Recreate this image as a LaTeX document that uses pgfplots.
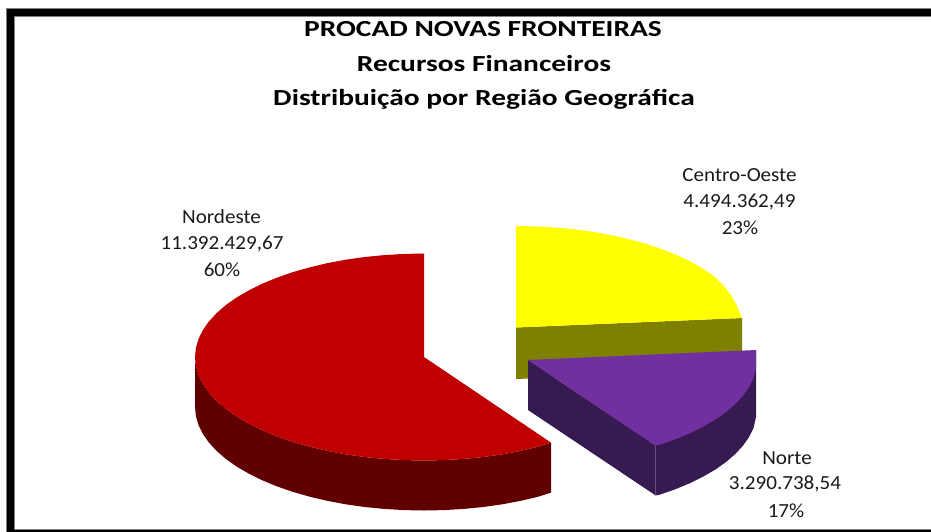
\documentclass[border=0pt]{standalone}
\usepackage{pgfplots}
\pgfplotsset{compat=1.18}
\usepackage{fontspec}
\setmainfont{Carlito}
\newfontfamily\titlefont[FakeStretch=1.28]{Carlito}
\newfontfamily\labelfont[FakeStretch=1.055]{Carlito}
\definecolor{ink}{HTML}{1A1A1A}
\definecolor{cyel}{RGB}{255,255,0}
\definecolor{cyelside}{RGB}{128,128,0}
\definecolor{cred}{RGB}{192,0,0}
\definecolor{credside}{RGB}{96,0,0}
\definecolor{cpur}{RGB}{112,48,160}
\definecolor{cpurside}{RGB}{56,26,82}
\begin{document}
\begin{tikzpicture}
\useasboundingbox (0,0) rectangle (931pt,531pt);
\begin{axis}[
  at={(0,0)},anchor=south west,scale only axis,width=931pt,height=531pt,
  xmin=0,xmax=931,ymin=0,ymax=531,y dir=reverse,hide axis,clip=true,
  every axis plot/.append style={draw=none,line join=round},
]
% frame
\addplot[fill=black,draw=gray,line width=0.6pt] coordinates {(6.5,8)(932,8)(932,16)(14.5,16)(14.5,529)(932,529)(932,533)(6.5,533)} -- cycle;
% Centro-Oeste side and top
\addplot[fill=cyelside] coordinates {(516,327.5)(742,318)(742,370)(516,379)} -- cycle;
\addplot[fill=cyel] coordinates {(516,226)(535.9,226.4)(555.8,227.6)(575.3,229.4)(594.3,232)(612.9,235.5)(630.5,239.6)(647.4,244.2)(663.2,249.6)(677.9,255.6)(691.4,262.1)(703.6,269)(714.3,276.4)(723.5,285.5)(731,295)(737,306)(742,318)(516,327.5)} -- cycle;
% Nordeste side and top
\addplot[fill=credside] coordinates {(195,357)(195.9,366)(198.5,375)(202.8,383.8)(208.8,392.4)(216.5,400.8)(225.7,408.8)(236.4,416.4)(248.6,423.5)(262.1,430.2)(276.8,436.3)(292.6,441.8)(309.5,446.6)(327.1,450.8)(345.7,454.3)(364.7,457)(384.2,458.9)(404.1,460.1)(424,460.5)(443.9,460.1)(463.8,458.9)(483.3,457)(502.3,454.3)(520.9,450.8)(538.5,446.6)(551,442.6)(551,492.6)(538.5,496.6)(520.9,500.8)(502.3,504.3)(483.3,507)(463.8,508.9)(443.9,510.1)(424,510.5)(404.1,510.1)(384.2,508.9)(364.7,507)(345.7,504.3)(327.1,500.8)(309.5,496.6)(292.6,491.8)(276.8,486.3)(262.1,480.2)(248.6,473.5)(236.4,466.4)(225.7,458.8)(216.5,450.8)(208.8,442.4)(202.8,433.8)(198.5,425)(195.9,416)(195,407)} -- cycle;
\addplot[fill=cred] coordinates {(424,253.5)(404.1,253.9)(384.2,255.1)(364.7,257)(345.7,259.7)(327.1,263.2)(309.5,267.4)(292.6,272.2)(276.8,277.7)(262.1,283.8)(248.6,290.5)(236.4,297.6)(225.7,305.2)(216.5,313.2)(208.8,321.6)(202.8,330.2)(198.5,339)(195.9,348)(195,357)(195.9,366)(198.5,375)(202.8,383.8)(208.8,392.4)(216.5,400.8)(225.7,408.8)(236.4,416.4)(248.6,423.5)(262.1,430.2)(276.8,436.3)(292.6,441.8)(309.5,446.6)(327.1,450.8)(345.7,454.3)(364.7,457)(384.2,458.9)(404.1,460.1)(424,460.5)(443.9,460.1)(463.8,458.9)(483.3,457)(502.3,454.3)(520.9,450.8)(538.5,446.6)(551,442.6)(424,357)} -- cycle;
% Norte sides and top
\addplot[fill=cpurside] coordinates {(528,360)(655,445)(655,495)(528,410)} -- cycle;
\addplot[fill=cpurside] coordinates {(756,350)(756,417)(753.5,428)(749.2,436.8)(743.2,445.4)(735.5,453.8)(726.3,461.8)(715.6,469.4)(703.4,476.5)(689.9,483.2)(675.2,489.3)(659.4,494.8)(655,495.5)(655,445)} -- cycle;
\addplot[fill=cpur] coordinates {(528,360)(756,350)(756,367)(753.5,378)(749.2,386.8)(743.2,395.4)(735.5,403.8)(726.3,411.8)(715.6,419.4)(703.4,426.5)(689.9,433.2)(675.2,439.3)(659.4,444.8)(655,445.5)} -- cycle;
\addplot[draw={rgb,255:red,100;green,80;blue,125},line width=0.8pt] coordinates {(655,445.5)(655,495)};
% titles
\node[font=\titlefont\bfseries\fontsize{23}{23}\selectfont,text=black] at (axis cs:483,29) {PROCAD NOVAS FRONTEIRAS};
\node[font=\titlefont\bfseries\fontsize{23}{23}\selectfont,text=black] at (axis cs:484,64) {Recursos Financeiros};
\node[font=\titlefont\bfseries\fontsize{23}{23}\selectfont,text=black] at (axis cs:484,99) {Distribuição por Região Geográfica};
% labels
\node[font=\labelfont\fontsize{20}{20}\selectfont,text=ink] at (axis cs:221.5,217) {Nordeste};
\node[font=\labelfont\fontsize{20}{20}\selectfont,text=ink] at (axis cs:222,244) {11.392.429,67};
\node[font=\labelfont\fontsize{20}{20}\selectfont,text=ink] at (axis cs:222,270) {60\%};
\node[font=\labelfont\fontsize{20}{20}\selectfont,text=ink] at (axis cs:739.5,175) {Centro-Oeste};
\node[font=\labelfont\fontsize{20}{20}\selectfont,text=ink] at (axis cs:739.5,202) {4.494.362,49};
\node[font=\labelfont\fontsize{20}{20}\selectfont,text=ink] at (axis cs:740,228) {23\%};
\node[font=\labelfont\fontsize{20}{20}\selectfont,text=ink] at (axis cs:787,458) {Norte};
\node[font=\labelfont\fontsize{20}{20}\selectfont,text=ink] at (axis cs:785,484) {3.290.738,54};
\node[font=\labelfont\fontsize{20}{20}\selectfont,text=ink] at (axis cs:786,511) {17\%};
\end{axis}
\end{tikzpicture}
\end{document}
